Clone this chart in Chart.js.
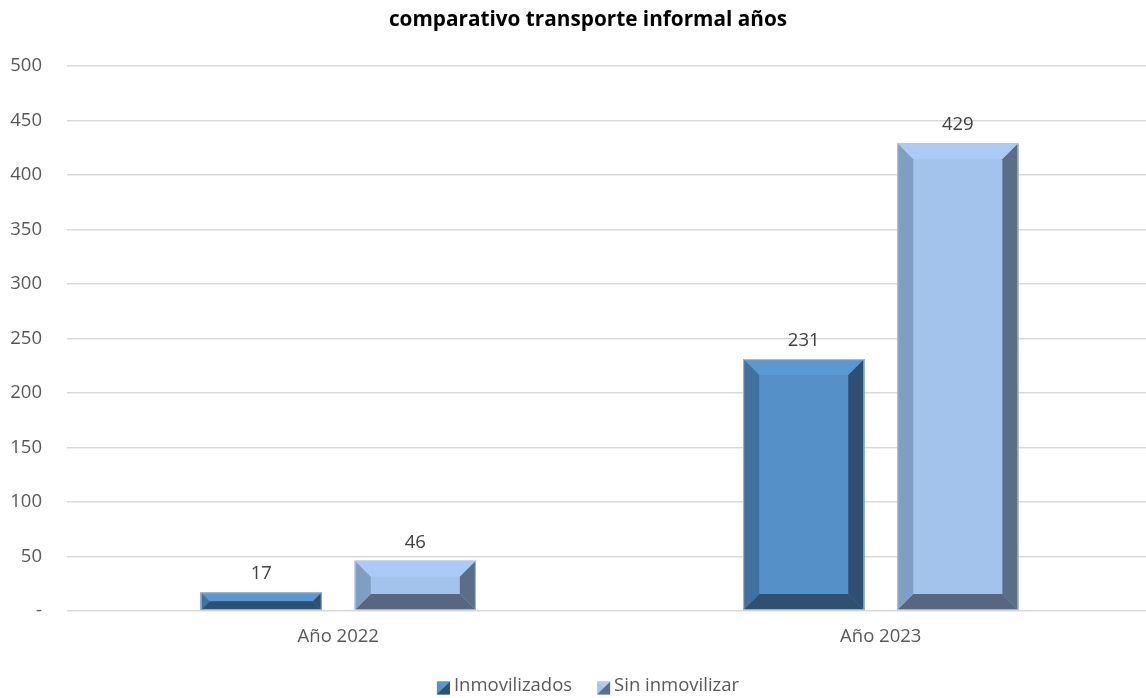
<!DOCTYPE html>
<html>
<head>
<meta charset="utf-8">
<script src="https://cdn.jsdelivr.net/npm/chart.js@4.4.0/dist/chart.umd.min.js"></script>
<style>
  body { margin: 0; background: #fff; overflow: hidden; }
  #wrap { width: 1146px; height: 698px; overflow: hidden; }
</style>
</head>
<body>
<div id="wrap"><canvas id="newChart" width="1152" height="698"></canvas></div>
<script>
// Chart data
const chartTitle = 'comparativo transporte informal años';
const categories = ['Año 2022', 'Año 2023'];
const inmovilizados = [17, 231];
const sinInmovilizar = [46, 429];
const seriesNames = ['Inmovilizados', 'Sin inmovilizar'];
const yTicks = [0, 50, 100, 150, 200, 250, 300, 350, 400, 450, 500];

// bevel colours per series: face, top, left, right, bottom
const bevelColors = [
  { face: '#5591c8', top: '#5b98d1', left: '#41729f', right: '#2f5073', bottom: '#30506f' },
  { face: '#a3c3ed', top: '#a9cbf5', left: '#7f9ec3', right: '#5b6e87', bottom: '#56677f' }
];

const FONT = "'Open Sans', 'Liberation Sans', sans-serif";
const TXT = 18.5;
// the Excel chart centres its title and legend a bit right of the window middle
const CENTER_X = 588;

function poly(ctx, col, pts) {
  ctx.fillStyle = col;
  ctx.beginPath();
  ctx.moveTo(pts[0][0], pts[0][1]);
  for (let k = 1; k < pts.length; k++) ctx.lineTo(pts[k][0], pts[k][1]);
  ctx.closePath();
  ctx.fill();
}

// draws the bevelled look and the value labels on top of the bars
const bevelPlugin = {
  id: 'bevel',
  afterDatasetsDraw(chart) {
    const ctx = chart.ctx;
    chart.data.datasets.forEach(function(ds, i) {
      const c = bevelColors[i];
      chart.getDatasetMeta(i).data.forEach(function(bar, j) {
        const l = bar.x - bar.width / 2, r = bar.x + bar.width / 2;
        const t = bar.y, bt = bar.base;
        const b = Math.min(16, (bt - t) / 2, bar.width / 2);
        ctx.save();
        ctx.fillStyle = c.face;
        ctx.fillRect(l, t, r - l, bt - t);
        poly(ctx, c.top, [[l, t], [r, t], [r - b, t + b], [l + b, t + b]]);
        poly(ctx, c.bottom, [[l, bt], [r, bt], [r - b, bt - b], [l + b, bt - b]]);
        poly(ctx, c.left, [[l, t], [l + b, t + b], [l + b, bt - b], [l, bt]]);
        poly(ctx, c.right, [[r, t], [r - b, t + b], [r - b, bt - b], [r, bt]]);
        ctx.strokeStyle = 'rgba(190,205,225,0.8)';
        ctx.lineWidth = 1;
        ctx.strokeRect(l + 0.5, t + 0.5, r - l - 1, bt - t - 1);

        ctx.fillStyle = '#404040';
        ctx.font = TXT + 'px ' + FONT;
        ctx.textAlign = 'center';
        ctx.textBaseline = 'bottom';
        ctx.fillText(ds.data[j], bar.x, t - 9);
        ctx.restore();
      });
    });
  }
};

// title and legend drawn by hand so they sit where Excel puts them
const titleLegendPlugin = {
  id: 'titleLegend',
  afterDraw(chart) {
    const ctx = chart.ctx;
    ctx.save();
    ctx.fillStyle = '#000';
    ctx.font = 'bold 20.75px ' + FONT;
    ctx.textAlign = 'center';
    ctx.textBaseline = 'middle';
    ctx.fillText(chartTitle, CENTER_X, 20);

    ctx.font = TXT + 'px ' + FONT;
    ctx.textAlign = 'left';
    const box = 13, gapIn = 4, gapOut = 25;
    const widths = chart.data.datasets.map((ds) => ctx.measureText(ds.label).width);
    let total = 0;
    widths.forEach(function(w, i) {
      total += box + gapIn + w + (i < widths.length - 1 ? gapOut : 0);
    });
    let x = CENTER_X - total / 2;
    const y = 686;
    chart.data.datasets.forEach(function(ds, i) {
      const c = bevelColors[i];
      const t = y - box / 2 + 2;
      ctx.fillStyle = c.face;
      ctx.fillRect(x, t, box, box);
      poly(ctx, c.right, [[x + box, t], [x + box, t + box], [x, t + box]]);
      poly(ctx, c.top, [[x, t], [x + box, t], [x + box / 2, t + box / 2]]);
      ctx.fillStyle = '#595959';
      ctx.fillText(ds.label, x + box + gapIn, y);
      x += box + gapIn + widths[i] + gapOut;
    });
    ctx.restore();
  }
};

const ctx = document.getElementById('newChart').getContext('2d');

const myChart = new Chart(ctx, {
  type: 'bar',
  data: {
    labels: categories,
    datasets: [
      {
        label: seriesNames[0],
        data: inmovilizados,
        backgroundColor: bevelColors[0].face,
        barPercentage: 0.786,
        categoryPercentage: 0.568
      },
      {
        label: seriesNames[1],
        data: sinInmovilizar,
        backgroundColor: bevelColors[1].face,
        barPercentage: 0.786,
        categoryPercentage: 0.568
      }
    ]
  },
  options: {
    responsive: false,
    animation: false,
    layout: { padding: { left: 0, right: 0, top: 66, bottom: 30 } },
    scales: {
      y: {
        min: 0,
        max: 500,
        afterBuildTicks: function(axis) {
          axis.ticks = yTicks.map((v) => ({ value: v }));
        },
        afterFit: function(axis) {
          axis.width = 67;
        },
        ticks: {
          color: '#595959',
          font: { family: FONT, size: TXT },
          padding: 25,
          callback: (v) => (v === 0 ? '-' : v)
        },
        grid: { color: '#d9d9d9', lineWidth: 1.5, drawTicks: false },
        border: { display: false }
      },
      x: {
        ticks: {
          color: '#595959',
          font: { family: FONT, size: TXT },
          padding: 15
        },
        afterFit: function(axis) {
          axis.height += 5;
        },
        grid: { display: false, drawTicks: false },
        border: { display: false }
      }
    },
    plugins: {
      title: { display: false },
      legend: { display: false },
      tooltip: { enabled: false }
    }
  },
  plugins: [bevelPlugin, titleLegendPlugin]
});
</script>
</body>
</html>
